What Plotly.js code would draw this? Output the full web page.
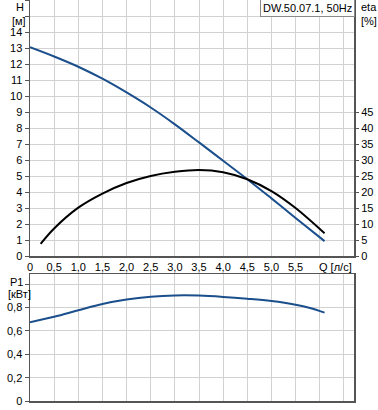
<!DOCTYPE html>
<html>
<head>
<meta charset="utf-8">
<script src="https://cdn.plot.ly/plotly-3.0.1.min.js"></script>
<style>html,body{margin:0;padding:0;background:#fff;}#chart{width:378px;height:410px;}</style>
</head>
<body>
<div id="chart"></div>
<script>
// Data
const qHead = [0, 0.5, 1.0, 1.5, 2.0, 2.5, 3.0, 3.5, 4.0, 4.5, 5.0, 5.5, 6.1];
const head  = [13.05, 12.47, 11.83, 11.08, 10.22, 9.28, 8.23, 7.1, 5.95, 4.8, 3.6, 2.38, 0.93];

const qEta = [0.22, 0.5, 1.0, 1.5, 2.0, 2.5, 3.0, 3.5, 4.0, 4.5, 5.0, 5.5, 6.1];
const eta  = [3.8, 8.6, 15.1, 19.5, 22.8, 25.0, 26.3, 26.9, 26.2, 24.0, 20.3, 15.0, 7.1];

const qPow = [0, 0.5, 1.0, 1.5, 2.0, 2.5, 3.0, 3.5, 4.0, 4.5, 5.0, 5.5, 5.8, 6.1];
const power = [0.675, 0.722, 0.777, 0.831, 0.869, 0.893, 0.904, 0.903, 0.892, 0.876, 0.856, 0.825, 0.797, 0.757];

const qTickVals = [0, 0.5, 1.0, 1.5, 2.0, 2.5, 3.0, 3.5, 4.0, 4.5, 5.0, 5.5, 6.0, 6.5];
const qTickText = ["0", "0,5", "1,0", "1,5", "2,0", "2,5", "3,0", "3,5", "4,0", "4,5", "5,0", "5,5", "", ""];
const hTickVals = [0,1,2,3,4,5,6,7,8,9,10,11,12,13,14,15,16];
const hTickText = ["0","1","2","3","4","5","6","7","8","9","10","11","12","13","14","",""];
const etaTickVals = [0,5,10,15,20,25,30,35,40,45];
const etaTickText = ["0","5","10","15","20","25","30","35","40","45"];
const pTickVals = [0, 0.2, 0.4, 0.6, 0.8, 1.0];
const pTickText = ["0", "0,2", "0,4", "0,6", "0,8", ""];

const pumpName = "DW.50.07.1, 50Hz";

const W = 378, H = 410;
const blue = "#1b4f8c";
const grid = "#d2d2d2";
const axisLine = "#555555";
const font = {family: "Liberation Sans, Arial, sans-serif", size: 11, color: "#000"};

const xDom = [30/W, 354/W];
const px = v => v / W;
const py = v => 1 - v / H;

const traces = [
  {x: qHead, y: head, xaxis: "x", yaxis: "y", mode: "lines", line: {color: blue, width: 2, shape: "spline", smoothing: 1}, hoverinfo: "skip"},
  {x: qEta, y: eta, xaxis: "x", yaxis: "y2", mode: "lines", line: {color: "#000", width: 2, shape: "spline", smoothing: 1}, hoverinfo: "skip"},
  {x: qPow, y: power, xaxis: "x2", yaxis: "y3", mode: "lines", line: {color: blue, width: 2, shape: "spline", smoothing: 1}, hoverinfo: "skip"}
];

const baseX = {
  domain: xDom, range: [0, 6.71], tickmode: "array", tickvals: qTickVals, ticktext: qTickText,
  showgrid: true, gridcolor: grid, gridwidth: 1, zeroline: false,
  showline: true, linecolor: axisLine, linewidth: 1.5, mirror: true, ticks: "",
  tickfont: font, automargin: false, fixedrange: true
};

const layout = {
  width: W, height: H,
  margin: {l: 0, r: 0, t: 0, b: 0, pad: 0},
  paper_bgcolor: "#fff", plot_bgcolor: "#fff",
  showlegend: false,
  font: font,
  xaxis: Object.assign({}, baseX, {anchor: "y"}),
  yaxis: {
    domain: [154/H, 1], anchor: "x", range: [0, 16], tickmode: "array", tickvals: hTickVals, ticktext: hTickText,
    showgrid: true, gridcolor: grid, zeroline: false, showline: true, linecolor: axisLine, linewidth: 1.5, mirror: true,
    ticks: "outside", ticklen: 4, tickcolor: axisLine, tickfont: font, automargin: false, fixedrange: true
  },
  yaxis2: {
    overlaying: "y", side: "right", anchor: "x", range: [0, 80], tickmode: "array", tickvals: etaTickVals, ticktext: etaTickText,
    showgrid: false, zeroline: false, showline: false,
    ticks: "outside", ticklen: 4, tickcolor: axisLine, tickfont: font, automargin: false, fixedrange: true
  },
  xaxis2: Object.assign({}, baseX, {anchor: "y3", showticklabels: false}),
  yaxis3: {
    domain: [9/H, 136/H], anchor: "x2", range: [0, 1.088], tickmode: "array", tickvals: pTickVals, ticktext: pTickText,
    showgrid: true, gridcolor: grid, zeroline: false, showline: true, linecolor: axisLine, linewidth: 1.5, mirror: true,
    ticks: "outside", ticklen: 4, tickcolor: axisLine, tickfont: font, automargin: false, fixedrange: true
  },
  annotations: [
    {xref: "paper", yref: "paper", x: px(19.5), y: py(7), text: "H", showarrow: false, font: font, xanchor: "center", yanchor: "middle"},
    {xref: "paper", yref: "paper", x: px(19), y: py(21), text: "[м]", showarrow: false, font: font, xanchor: "center", yanchor: "middle"},
    {xref: "paper", yref: "paper", x: px(359), y: py(7), text: "eta", showarrow: false, font: font, xanchor: "left", yanchor: "middle"},
    {xref: "paper", yref: "paper", x: px(359), y: py(21), text: "[%]", showarrow: false, font: font, xanchor: "left", yanchor: "middle"},
    {xref: "paper", yref: "paper", x: px(16.5), y: py(282), text: "P1", showarrow: false, font: font, xanchor: "center", yanchor: "middle"},
    {xref: "paper", yref: "paper", x: px(19), y: py(294), text: "[кВт]", showarrow: false, font: font, xanchor: "center", yanchor: "middle"},
    {xref: "paper", yref: "paper", x: px(317), y: py(267), text: "Q [л/с]", showarrow: false, font: font, xanchor: "left", yanchor: "middle"},
    {xref: "paper", yref: "paper", x: px(307.5), y: py(7.5), text: pumpName, showarrow: false, font: font,
     xanchor: "center", yanchor: "middle", bgcolor: "#fff", bordercolor: "#8a8a8a", borderwidth: 1, borderpad: 2}
  ]
};

Plotly.newPlot("chart", traces, layout, {staticPlot: true, displayModeBar: false});
</script>
</body>
</html>
